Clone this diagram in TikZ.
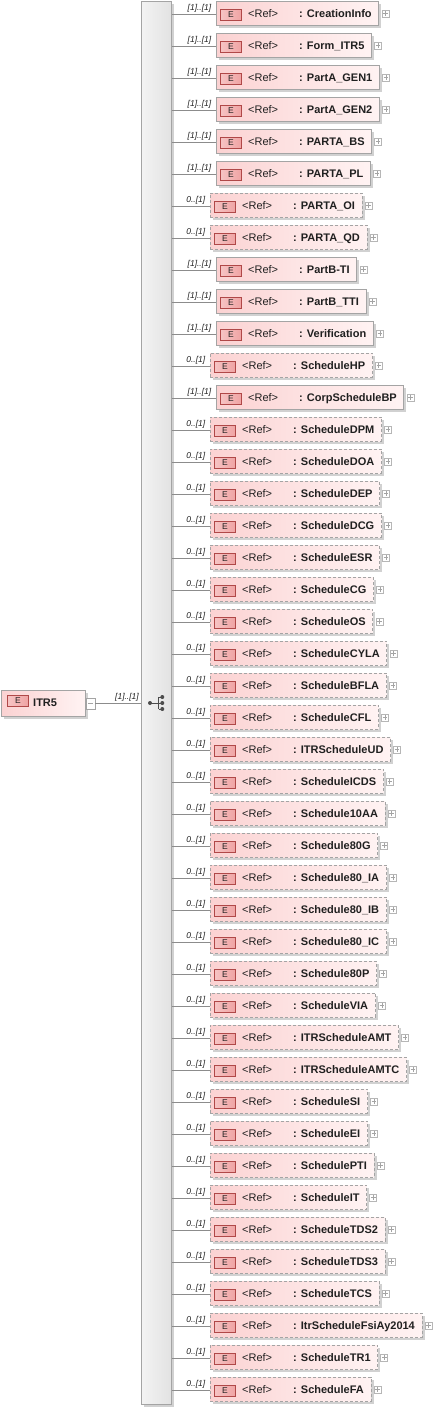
\documentclass[tikz,border=0pt]{standalone}
\usepackage{fontspec}
\setmainfont{Liberation Sans}
\usetikzlibrary{calc,fit,backgrounds,shadows}
\definecolor{bordergray}{HTML}{A4A4A4}
\definecolor{conngray}{HTML}{8C8C8C}
\definecolor{pinkL}{HTML}{FBD2D2}
\definecolor{pinkR}{HTML}{FFF3F3}
\definecolor{iconL}{HTML}{F6C4C4}
\definecolor{iconR}{HTML}{EFA3A3}
\definecolor{iconborder}{HTML}{B04848}
\definecolor{barL}{HTML}{F3F3F3}
\definecolor{barR}{HTML}{E2E2E2}
\definecolor{textdark}{HTML}{202020}
\tikzset{
  boxshadow/.style={drop shadow={shadow xshift=2.5pt, shadow yshift=-2.5pt, opacity=0.18, fill=black}},
  reqbox/.style={draw=bordergray, line width=1pt, left color=pinkL, right color=pinkR, inner sep=0pt, boxshadow},
  optbox/.style={reqbox, dash pattern=on 3pt off 2pt},
  eicon/.style={draw=iconborder, line width=0.8pt, left color=iconL, right color=iconR, minimum width=21pt, minimum height=11pt, inner sep=0pt, font=\fontsize{8.5}{9}\selectfont, text=textdark},
  reftext/.style={inner sep=0pt, font=\fontsize{11}{13}\selectfont, text=textdark},
  nametext/.style={inner sep=0pt, font=\fontsize{11}{13}\selectfont\bfseries, text=textdark},
  mult/.style={inner sep=0pt, font=\fontsize{8.5}{10}\selectfont\itshape, text=textdark},
  conn/.style={draw=conngray, line width=1pt},
  plusbox/.style={draw=bordergray!80, line width=0.7pt, fill=white, minimum size=7pt, inner sep=0pt},
  plusline/.style={draw=bordergray, line width=0.7pt},
  seqbar/.style={draw=bordergray, line width=1pt, left color=barL, right color=barR, inner sep=0pt, boxshadow},
}
\begin{document}
\begin{tikzpicture}[x=1pt,y=1pt]
\useasboundingbox (0,0) rectangle (435,-1409);
% sequence bar
\node[seqbar, anchor=north west, minimum width=30pt, minimum height=1403pt] (seq) at (141,-1) {};
% compositor icon
\coordinate (cdot) at (150,-703);
\fill[textdark!80] (cdot) circle (2pt);
\draw[textdark!80, line width=0.9pt] (cdot) -- (158.5,-703) (158.5,-697) -- (158.5,-709)
  (158.5,-697) -- (162,-697) (158.5,-709) -- (162,-709) (158.5,-703) -- (162,-703);
\fill[textdark!80] (162.3,-697) circle (2pt) (162.3,-703) circle (2pt) (162.3,-709) circle (2pt);
% root
\node[reqbox, anchor=north west, minimum width=84pt, minimum height=26pt] (root) at (1,-690) {};
\node[eicon] (ric) at (18,-701) {E};
\node[nametext, anchor=base west] (rname) at (33,-706) {ITR5};
\node[draw=bordergray, line width=0.8pt, fill=white, minimum width=9pt, minimum height=11pt, inner sep=0pt, anchor=west] (rminus) at (85.5,-703.5) {};
\draw[plusline] ($(rminus.center)+(-2.5,0)$) -- ($(rminus.center)+(2.5,0)$);
\draw[conn] (rminus.east) -- (seq.west |- rminus.east);
\node[mult, anchor=base east] (rlab) at (139,-699) {[1]..[1]};
% children
\foreach \i/\nm/\o in {
 0/CreationInfo/0, 1/Form\_ITR5/0, 2/PartA\_GEN1/0, 3/PartA\_GEN2/0, 4/PARTA\_BS/0,
 5/PARTA\_PL/0, 6/PARTA\_OI/1, 7/PARTA\_QD/1, 8/PartB-TI/0, 9/PartB\_TTI/0,
 10/Verification/0, 11/ScheduleHP/1, 12/CorpScheduleBP/0, 13/ScheduleDPM/1, 14/ScheduleDOA/1,
 15/ScheduleDEP/1, 16/ScheduleDCG/1, 17/ScheduleESR/1, 18/ScheduleCG/1, 19/ScheduleOS/1,
 20/ScheduleCYLA/1, 21/ScheduleBFLA/1, 22/ScheduleCFL/1, 23/ITRScheduleUD/1, 24/ScheduleICDS/1,
 25/Schedule10AA/1, 26/Schedule80G/1, 27/Schedule80\_IA/1, 28/Schedule80\_IB/1, 29/Schedule80\_IC/1,
 30/Schedule80P/1, 31/ScheduleVIA/1, 32/ITRScheduleAMT/1, 33/ITRScheduleAMTC/1, 34/ScheduleSI/1,
 35/ScheduleEI/1, 36/SchedulePTI/1, 37/ScheduleIT/1, 38/ScheduleTDS2/1, 39/ScheduleTDS3/1,
 40/ScheduleTCS/1, 41/ItrScheduleFsiAy2014/1, 42/ScheduleTR1/1, 43/ScheduleFA/1}{
  \pgfmathsetmacro\yy{-(14+32*\i)}
  \ifnum\o=1
    \def\xl{210}\def\lab{0..[1]}\tikzset{rowbox/.style={optbox}}
  \else
    \def\xl{216}\def\lab{[1]..[1]}\tikzset{rowbox/.style={reqbox}}
  \fi
  \node[reftext, anchor=base west] (r\i) at (\xl+32, \yy-3) {<Ref>};
  \node[nametext, anchor=base west] (n\i) at (\xl+83, \yy-3) {: \nm};
  \path let \p1=(n\i.east) in coordinate (e\i) at (\x1+7pt, \yy-11);
  \coordinate (s\i) at (\xl, \yy+13);
  \begin{pgfonlayer}{background}
    \node[rowbox, fit={(s\i) (e\i)}] (b\i) {};
  \end{pgfonlayer}
  \node[eicon] (ic\i) at (\xl+15, \yy-1) {E};
  \node[plusbox] (p\i) at ($(b\i.east)+(6,-0.5)$) {};
  \draw[plusline] ($(p\i.center)+(-2.2,0)$) -- ($(p\i.center)+(2.2,0)$);
  \draw[plusline] ($(p\i.center)+(0,-2.2)$) -- ($(p\i.center)+(0,2.2)$);
  \draw[conn] (seq.east |- 0,\yy) -- (b\i.west |- 0,\yy);
  \node[mult, anchor=base east] (l\i) at ($(b\i.west |- 0,\yy)+(-4,4)$) {\lab};
}
\end{tikzpicture}
\end{document}
